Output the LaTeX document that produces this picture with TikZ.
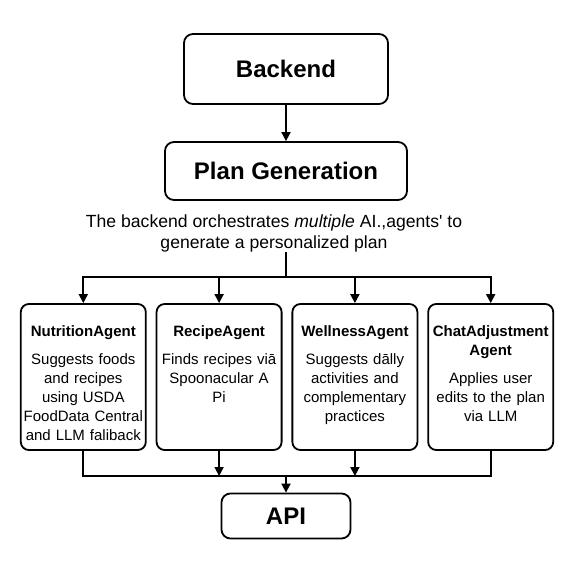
\documentclass[tikz,border=0pt]{standalone}
\usepackage{fontspec}
\setmainfont{Liberation Sans}[Ligatures=TeXOff]
\usetikzlibrary{matrix,arrows.meta,positioning}

\newcommand{\agenttitle}[1]{{\bfseries\fontsize{15}{19}\selectfont #1}}

\tikzset{
  top-box/.style={draw, rounded corners=9pt, line width=1.8pt,
    font=\bfseries\fontsize{24}{28}\selectfont},
  agent-box/.style={draw, rounded corners=8pt, line width=1.8pt, minimum width=125pt,
    text width=121pt, align=center, inner xsep=2pt, inner ysep=4pt,
    text height=28pt, text depth=110pt, font=\fontsize{15}{19}\selectfont}
}
\tikzset{
  link/.style={line width=1.8pt},
  link-arrow/.style={link, -{Triangle[length=9pt,width=9pt]}}
}

\begin{document}
\begin{tikzpicture}[x=1pt,y=-1pt]
    \useasboundingbox (0,0) rectangle (573,573);
    \node[top-box, minimum width=204pt, minimum height=70pt] (backend) at (286,69) {Backend};
    \node[top-box, minimum width=242pt, minimum height=58pt] (plan) at (286,171) {Plan Generation};
    \node[align=center, inner sep=0, font=\fontsize{17.6}{21}\selectfont] (desc) at (274,233)
      {The backend orchestrates \textit{multiple} AI.,agents' to\\generate a personalized plan};
    \coordinate (split) at (286,277);
    \coordinate (merge) at (286,476);
    \matrix (agents)[at={(287,377)}, column sep=9pt, ampersand replacement=\&] {
      \node[agent-box] (nutrition) {\agenttitle{NutritionAgent}\\[9pt]Suggests foods\\and recipes\\using USDA\\FoodData Central\\and LLM faliback};\&
      \node[agent-box] (recipe) {\agenttitle{RecipeAgent}\\[9pt]Finds recipes viā\\Spoonacular A\\Pi};\&
      \node[agent-box] (wellness) {\agenttitle{WellnessAgent}\\[9pt]Suggests dālly\\activities and\\complementary\\practices};\&
      \node[agent-box] (chat) {\agenttitle{ChatAdjustment\\Agent}\\[9pt]Applies user\\edits to the plan\\via LLM};\\
    };
    \node[top-box, minimum width=129pt, minimum height=45pt] (api) at (286,516) {API};
    % connectors
    \draw[link-arrow] (backend) -- (plan);
    \draw[link] (split |- desc.south) -- (split);
    \foreach \agent in {nutrition,recipe,wellness,chat}
      \draw[link-arrow] (split) -| (\agent.north);
    \draw[link] (nutrition.south) |- (merge) -| (chat.south);
    \foreach \agent in {recipe,wellness}
      \draw[link-arrow] (\agent.south) -- (\agent.south |- merge);
    \draw[link-arrow] (merge) -- (api);
  \end{tikzpicture}
\end{document}
